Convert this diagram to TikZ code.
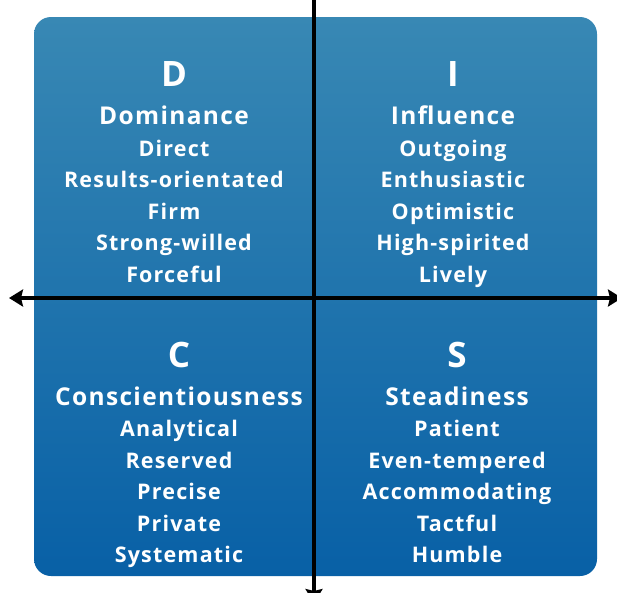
\documentclass[tikz,border=0pt]{standalone}
\usepackage{fontspec}
\setmainfont{Open Sans}[LetterSpace=5.5]
\usetikzlibrary{arrows.meta}

\definecolor{disctop}{RGB}{56,136,180}
\definecolor{discbottom}{RGB}{8,96,166}

\tikzset{
  letter/.style={text=white, anchor=base, font=\bfseries\fontsize{35}{35}\selectfont},
  heading/.style={text=white, anchor=base, font=\bfseries\fontsize{24.5}{24.5}\selectfont},
  trait/.style={text=white, anchor=base, font=\bfseries\fontsize{21.5}{21.5}\selectfont},
  axis/.style={line width=4pt,
    {Stealth[length=14pt,width=17pt,inset=2pt]}-{Stealth[length=14pt,width=17pt,inset=2pt]}}
}

\begin{document}
\begin{tikzpicture}[x=1pt,y=-1pt]
  \useasboundingbox (0,0) rectangle (617,592);
  \clip (0,0) rectangle (617,592);
  % panel
  \shade[top color=disctop, bottom color=discbottom, rounded corners=17pt]
    (34,17) rectangle (597,576);
  % D quadrant
  \node[letter]  (d)    at (174,86) {D};
  \node[heading] (dom)  at (174,124.5) {Dominance};
  \node[trait]   (d1)   at (174,156) {Direct};
  \node[trait]   (d2)   at (174,187.5) {Results-orientated};
  \node[trait]   (d3)   at (174,219) {Firm};
  \node[trait]   (d4)   at (174,250.5) {Strong-willed};
  \node[trait]   (d5)   at (174,282) {Forceful};
  % I quadrant
  \node[letter]  (i)    at (453,86) {I};
  \node[heading] (inf)  at (453,124.5) {Influence};
  \node[trait]   (i1)   at (453,156) {Outgoing};
  \node[trait]   (i2)   at (453,187.5) {Enthusiastic};
  \node[trait]   (i3)   at (453,219) {Optimistic};
  \node[trait]   (i4)   at (453,250.5) {High-spirited};
  \node[trait]   (i5)   at (453,282) {Lively};
  % C quadrant
  \node[letter]  (c)    at (179,367) {C};
  \node[heading] (con)  at (179,405) {Conscientiousness};
  \node[trait]   (c1)   at (179,436.5) {Analytical};
  \node[trait]   (c2)   at (179,468) {Reserved};
  \node[trait]   (c3)   at (179,499.5) {Precise};
  \node[trait]   (c4)   at (179,531) {Private};
  \node[trait]   (c5)   at (179,562.5) {Systematic};
  % S quadrant
  \node[letter]  (s)    at (457,367) {S};
  \node[heading] (ste)  at (457,405) {Steadiness};
  \node[trait]   (s1)   at (457,436.5) {Patient};
  \node[trait]   (s2)   at (457,468) {Even-tempered};
  \node[trait]   (s3)   at (457,499.5) {Accommodating};
  \node[trait]   (s4)   at (457,531) {Tactful};
  \node[trait]   (s5)   at (457,562.5) {Humble};
  % axes
  \coordinate (west)  at (9,298);
  \coordinate (east)  at (622,298);
  \coordinate (north) at (314,-20);
  \coordinate (south) at (314,603);
  \begin{scope}
    \draw[axis] (west) -- (east);
    \draw[axis] (north) -- (south);
  \end{scope}
\end{tikzpicture}
\end{document}
